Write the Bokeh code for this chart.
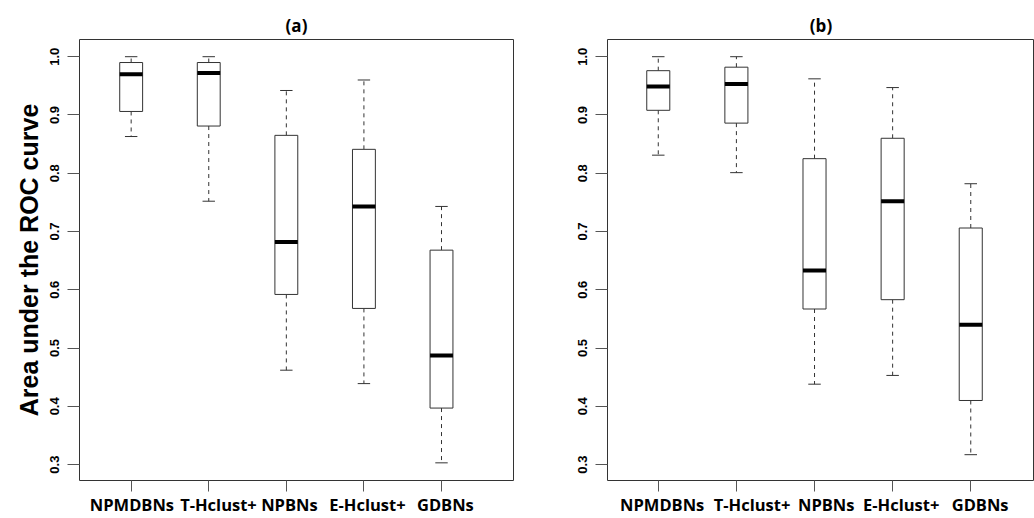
from bokeh.plotting import figure
from bokeh.models import Range1d, LinearAxis, FixedTicker, Title, ColumnDataSource
from bokeh.layouts import row
from bokeh.embed import file_html
from bokeh.resources import INLINE

# ---------------- data ----------------
categories = ["NPMDBNs", "T-Hclust+", "NPBNs", "E-Hclust+", "GDBNs"]

# panel (a)
a_lower = [0.863, 0.752, 0.462, 0.439, 0.303]
a_q1 = [0.906, 0.881, 0.592, 0.568, 0.397]
a_median = [0.970, 0.972, 0.682, 0.743, 0.487]
a_q3 = [0.990, 0.990, 0.865, 0.841, 0.668]
a_upper = [1.000, 1.000, 0.942, 0.960, 0.743]

# panel (b)
b_lower = [0.831, 0.801, 0.438, 0.453, 0.317]
b_q1 = [0.908, 0.886, 0.567, 0.583, 0.410]
b_median = [0.949, 0.953, 0.633, 0.752, 0.540]
b_q3 = [0.976, 0.982, 0.825, 0.860, 0.706]
b_upper = [1.000, 1.000, 0.962, 0.947, 0.782]

y_ticks = [0.3, 0.4, 0.5, 0.6, 0.7, 0.8, 0.9, 1.0]
y_tick_labels = ["0.3", "0.4", "0.5", "0.6", "0.7", "0.8", "0.9", "1.0"]

# ---------------- styling / layout constants ----------------
BOX_W = 0.295
CAP_W = 0.16
LINE = "#333333"
Y_RANGE = (0.2727, 1.0295)
label_shift_a = [0.01, 0.125, 0.04, 0.045, 0.05]
label_shift_b = [0.05, 0.20, 0.15, 0.11, 0.12]


def make_panel(title, lower, q1, med, q3, upper, x_range, width, border_left,
               border_right, label_shift, with_ylabel):
    p = figure(width=width, height=518, x_range=Range1d(*x_range),
               y_range=Range1d(*Y_RANGE), output_backend="svg",
               toolbar_location=None, x_axis_location=None, y_axis_location=None,
               min_border_left=border_left, min_border_right=border_right,
               min_border_top=39, min_border_bottom=35)
    p.grid.visible = False
    p.background_fill_color = "white"
    p.border_fill_color = "white"
    p.outline_line_color = LINE
    p.outline_line_width = 1

    t = Title(text=title, align="center", text_font="Open Sans",
              text_font_style="bold", text_font_size="17px",
              text_color="black", standoff=5)
    p.add_layout(t, "above")

    xs = list(range(1, len(categories) + 1))
    src = ColumnDataSource(dict(
        x=xs, lower=lower, q1=q1, med=med, q3=q3, upper=upper,
        cl=[x - CAP_W / 2 for x in xs], cr=[x + CAP_W / 2 for x in xs],
        bl=[x - BOX_W / 2 for x in xs], br=[x + BOX_W / 2 for x in xs]))

    # whiskers
    p.segment(x0="x", y0="q3", x1="x", y1="upper", source=src,
              line_color=LINE, line_width=1, line_dash="4 4")
    p.segment(x0="x", y0="q1", x1="x", y1="lower", source=src,
              line_color=LINE, line_width=1, line_dash="4 4")
    # caps
    p.segment(x0="cl", y0="upper", x1="cr", y1="upper", source=src,
              line_color=LINE, line_width=1)
    p.segment(x0="cl", y0="lower", x1="cr", y1="lower", source=src,
              line_color=LINE, line_width=1)
    # boxes
    p.vbar(x="x", width=BOX_W, bottom="q1", top="q3", source=src,
           fill_color="white", line_color=LINE, line_width=1)
    # medians
    p.segment(x0="bl", y0="med", x1="br", y1="med", source=src,
              line_color="black", line_width=4)

    # y axis
    yax = LinearAxis(ticker=FixedTicker(ticks=y_ticks),
                     major_label_overrides={v: s for v, s in zip(y_ticks, y_tick_labels)},
                     major_label_orientation="vertical",
                     major_tick_out=12, major_tick_in=0,
                     minor_tick_out=0, minor_tick_in=0,
                     axis_line_color=None, major_tick_line_color="#555555",
                     major_label_standoff=8,
                     major_label_text_font="Liberation Sans",
                     major_label_text_font_style="bold",
                     major_label_text_font_size="13px",
                     major_label_text_color="black")
    if with_ylabel:
        yax.axis_label = "Area under the ROC curve"
        yax.axis_label_text_font = "Liberation Sans"
        yax.axis_label_text_font_style = "bold"
        yax.axis_label_text_font_size = "25px"
        yax.axis_label_text_color = "black"
        yax.axis_label_standoff = 5
    p.add_layout(yax, "left")

    # x axis: tick marks at category positions
    xtick_ax = LinearAxis(ticker=FixedTicker(ticks=xs),
                          major_label_overrides={x: "" for x in xs},
                          major_label_text_font_size="0px",
                          major_label_standoff=0,
                          major_tick_out=11, major_tick_in=0,
                          minor_tick_out=0, minor_tick_in=0,
                          axis_line_color=None, major_tick_line_color="#555555")
    p.add_layout(xtick_ax, "below")

    # x axis: category labels
    lab_pos = [x + s for x, s in zip(xs, label_shift)]
    xlab_ax = LinearAxis(ticker=FixedTicker(ticks=lab_pos),
                         major_label_overrides={v: c for v, c in zip(lab_pos, categories)},
                         major_label_text_font="Open Sans",
                         major_label_text_font_style="bold",
                         major_label_text_font_size="16.5px",
                         major_label_text_color="black",
                         major_label_standoff=1,
                         major_tick_out=0, major_tick_in=0,
                         minor_tick_out=0, minor_tick_in=0,
                         axis_line_color=None, major_tick_line_color=None)
    p.add_layout(xlab_ax, "below")
    return p


pa = make_panel("(a)", a_lower, a_q1, a_median, a_q3, a_upper,
                (0.334, 5.928), 514, 79, 1, label_shift_a, True)
pb = make_panel("(b)", b_lower, b_q1, b_median, b_q3, b_upper,
                (0.350, 5.816), 520, 93, 0, label_shift_b, False)

layout = row(pa, pb)
open("out.html", "w").write(file_html(layout, INLINE))
